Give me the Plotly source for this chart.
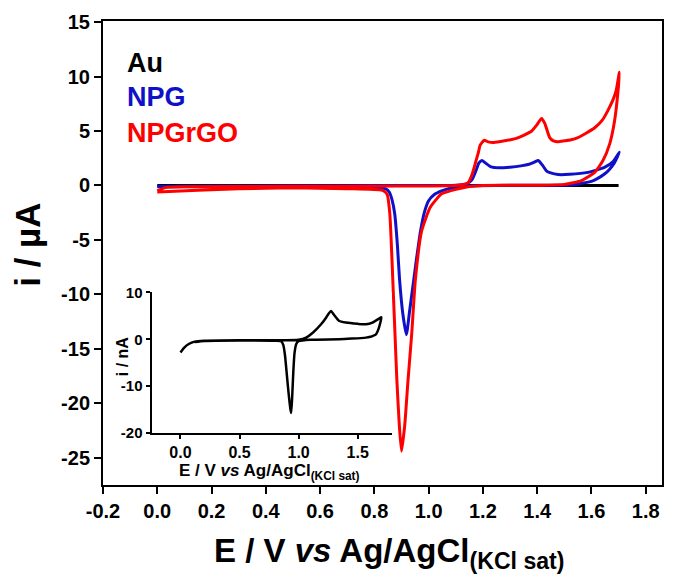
import plotly.graph_objects as go

# ---------------- data (E in V, i in uA for main; inset in nA) ----------------
npg_E = [0.00, 0.20, 0.50, 0.80, 1.00, 1.10, 1.14, 1.16, 1.175, 1.185, 1.196, 1.21, 1.23, 1.26, 1.30, 1.34, 1.37, 1.39, 1.404, 1.42, 1.434, 1.45, 1.477, 1.52, 1.587, 1.648, 1.68, 1.703,
         1.695, 1.685, 1.667, 1.648, 1.62, 1.60, 1.527, 1.45, 1.30, 1.147, 1.08, 1.048, 1.02, 1.00, 0.985, 0.97, 0.955, 0.945, 0.93, 0.918, 0.905, 0.893, 0.885, 0.875, 0.865, 0.855, 0.84, 0.80, 0.70, 0.50, 0.20, 0.00]
npg_i = [-0.10, -0.06, -0.03, -0.01, 0.00, 0.03, 0.15, 0.55, 1.40, 2.05, 2.30, 2.05, 1.70, 1.62, 1.68, 1.80, 1.95, 2.15, 2.30, 1.85, 1.35, 1.15, 1.00, 1.02, 1.20, 1.66, 2.20, 3.05,
         2.60, 2.10, 1.50, 1.05, 0.60, 0.38, 0.05, 0.03, 0.02, -0.05, -0.25, -0.50, -0.85, -1.40, -2.40, -4.20, -6.80, -8.70, -11.50, -13.70, -11.80, -8.70, -5.50, -2.60, -1.30, -0.60, -0.30, -0.18, -0.15, -0.12, -0.10, -0.12]

npgrgo_E = [0.00, 0.03, 0.10, 0.50, 0.90, 1.10, 1.13, 1.147, 1.16, 1.175, 1.183, 1.19, 1.205, 1.22, 1.24, 1.28, 1.32, 1.35, 1.38, 1.40, 1.416, 1.428, 1.446, 1.46, 1.477, 1.50, 1.525, 1.55, 1.58, 1.612, 1.64, 1.66, 1.68, 1.691, 1.703,
            1.697, 1.685, 1.667, 1.642, 1.612, 1.563, 1.502, 1.404, 1.30, 1.20, 1.15, 1.11, 1.048, 1.006, 0.974, 0.951, 0.938, 0.924, 0.912, 0.90, 0.892, 0.883, 0.875, 0.868, 0.857, 0.847, 0.83, 0.70, 0.50, 0.30, 0.15, 0.00]
npgrgo_i = [-0.50, -0.20, -0.12, -0.08, -0.05, 0.00, 0.10, 0.30, 1.00, 2.30, 3.00, 3.70, 4.15, 4.00, 3.95, 4.10, 4.30, 4.60, 5.00, 5.60, 6.15, 5.70, 4.40, 4.10, 4.02, 4.10, 4.20, 4.40, 4.80, 5.30, 6.00, 6.85, 7.90, 8.70, 10.40,
            8.40, 5.90, 3.80, 2.27, 1.20, 0.44, 0.10, 0.02, 0.01, 0.00, -0.10, -0.30, -0.77, -2.00, -4.20, -8.70, -13.50, -17.90, -22.00, -24.40, -22.00, -17.90, -13.00, -8.70, -2.60, -0.80, -0.45, -0.30, -0.22, -0.30, -0.45, -0.60]

# Au (inset, nA)
au_E = [0.00, 0.03, 0.07, 0.12, 0.20, 0.50, 0.80, 1.00, 1.063, 1.12, 1.19, 1.232, 1.255, 1.274, 1.30, 1.344, 1.40, 1.50, 1.57, 1.625, 1.68, 1.70,
        1.68, 1.654, 1.60, 1.57, 1.45, 1.344, 1.10, 1.00, 0.98, 0.965, 0.955, 0.945, 0.937, 0.93, 0.915, 0.90, 0.885, 0.87, 0.852, 0.80, 0.50, 0.20, 0.12]
au_i = [-2.80, -1.80, -1.00, -0.50, -0.30, -0.20, -0.20, -0.10, 0.36, 1.40, 3.20, 4.60, 5.50, 6.06, 5.20, 3.90, 3.57, 3.30, 3.20, 3.57, 4.40, 4.70,
        2.50, 1.07, 0.50, 0.36, 0.15, 0.00, -0.10, -0.40, -1.00, -3.00, -7.00, -12.50, -15.70, -14.80, -11.50, -7.50, -3.50, -1.20, -0.40, -0.30, -0.25, -0.35, -0.60]
au_main_i = [v / 1000.0 for v in au_i]  # nA -> uA

x_ticks = [-0.2, 0.0, 0.2, 0.4, 0.6, 0.8, 1.0, 1.2, 1.4, 1.6, 1.8]
y_ticks = [-25, -20, -15, -10, -5, 0, 5, 10, 15]
inset_x_ticks = [0.0, 0.5, 1.0, 1.5]
inset_y_ticks = [-20, -10, 0, 10]

# ---------------- layout helpers ----------------
W, H = 675, 577
L, R, T, B = 103, 11, 20, 92
PW, PH = W - L - R, H - T - B


def px(xp):
    return (xp - L) / PW


def py(yp):
    return (H - B - yp) / PH


FONT = "Liberation Sans, Arial, sans-serif"

fig = go.Figure()
fig.add_trace(go.Scatter(x=au_E, y=au_main_i, mode="lines", line=dict(color="black", width=3), showlegend=False))
fig.add_trace(go.Scatter(x=npg_E, y=npg_i, mode="lines", line=dict(color="#1010c8", width=3, shape="spline", smoothing=0.5), showlegend=False))
fig.add_trace(go.Scatter(x=npgrgo_E, y=npgrgo_i, mode="lines", line=dict(color="#ff0000", width=3, shape="spline", smoothing=0.5), showlegend=False))
fig.add_trace(go.Scatter(x=au_E, y=au_i, mode="lines", line=dict(color="black", width=2.5, shape="spline", smoothing=0.5),
                         xaxis="x2", yaxis="y2", showlegend=False))

axis_common = dict(showgrid=False, zeroline=False, showline=True, linecolor="black", linewidth=2,
                   ticks="outside", tickcolor="black", tickwidth=2)

fig.update_layout(
    width=W, height=H,
    margin=dict(l=L, r=R, t=T, b=B),
    paper_bgcolor="white", plot_bgcolor="white",
    font=dict(family=FONT, color="black"),
    xaxis=dict(**axis_common, range=[-0.2, 1.86], tickvals=x_ticks, ticktext=[f"{v:.1f}" for v in x_ticks], ticklen=7, mirror=True,
               tickfont=dict(family=FONT, size=20, weight="bold", color="black")),
    yaxis=dict(**axis_common, range=[-27.5, 15.1], tickvals=y_ticks, ticktext=[f"{v:d}" for v in y_ticks], ticklen=7, mirror=True,
               tickfont=dict(family=FONT, size=20, weight="bold", color="black")),
    xaxis2=dict(**axis_common, domain=[px(151.7), px(393)], anchor="y2", range=[-0.245, 1.79], tickvals=inset_x_ticks,
                ticktext=[f"{v:.1f}" for v in inset_x_ticks], ticklen=4,
                tickfont=dict(family=FONT, size=16, weight="bold", color="black")),
    yaxis2=dict(**axis_common, domain=[py(433), py(292)], anchor="x2", range=[-20, 10], tickvals=inset_y_ticks,
                ticktext=[f"{v:d}" for v in inset_y_ticks], ticklen=4,
                tickfont=dict(family=FONT, size=15, weight="bold", color="black")),
)

ann = []
# legend texts
for txt, col, yc in [("Au", "black", 62), ("NPG", "#1010c8", 96.5), ("NPGrGO", "#ff0000", 132.5)]:
    ann.append(dict(text=f"<b>{txt}</b>", x=px(125), y=py(yc), xref="paper", yref="paper", xanchor="left", yanchor="middle",
                    showarrow=False, font=dict(family=FONT, size=27, color=col)))
# main axis titles
ann.append(dict(text="<b>E / V <i>vs</i> Ag/AgCl<sub>(KCl sat)</sub></b>", x=px(390), y=py(553), xref="paper", yref="paper",
                xanchor="center", yanchor="middle", showarrow=False, font=dict(family=FONT, size=33, color="black")))
ann.append(dict(text="<b>i / µA</b>", x=px(27), y=py(244), xref="paper", yref="paper", xanchor="center", yanchor="middle",
                textangle=-90, showarrow=False, font=dict(family=FONT, size=35, color="black")))
# inset axis titles
ann.append(dict(text="<b>E / V <i>vs</i> Ag/AgCl<sub>(KCl sat)</sub></b>", x=px(270), y=py(472), xref="paper", yref="paper",
                xanchor="center", yanchor="middle", showarrow=False, font=dict(family=FONT, size=17, color="black")))
ann.append(dict(text="<b>i / nA</b>", x=px(122), y=py(356), xref="paper", yref="paper", xanchor="center", yanchor="middle",
                textangle=-90, showarrow=False, font=dict(family=FONT, size=16, color="black")))
fig.update_layout(annotations=ann)

fig.write_html("out.html")
